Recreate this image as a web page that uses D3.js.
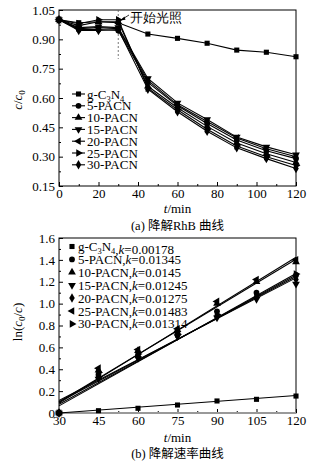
<!DOCTYPE html>
<html><head><meta charset="utf-8">
<script src="https://cdn.jsdelivr.net/npm/d3@7"></script>
<style>body{margin:0;background:#fff}svg{display:block}text{font-family:"Liberation Serif","Times New Roman",serif;fill:#000}</style>
</head><body>
<svg id="c" width="325" height="462"></svg>
<script>
// ---- Data: panel (a) degradation curves ----
const timesA = [0,10,20,30,45,60,75,90,105,120];
const seriesNamesA = ["g-C3N4","5-PACN","10-PACN","15-PACN","20-PACN","25-PACN","30-PACN"];
const gC3N4_A  = [1.0,0.985,0.99,0.985,0.927,0.905,0.88,0.845,0.834,0.811];
const p5_A     = [1.0,0.95,0.95,0.945,0.68,0.56,0.47,0.385,0.33,0.29];
const p10_A    = [1.0,0.97,0.99,0.99,0.66,0.55,0.455,0.37,0.315,0.27];
const p15_A    = [1.0,0.96,0.965,0.96,0.70,0.575,0.49,0.40,0.35,0.31];
const p20_A    = [1.0,0.955,0.96,0.955,0.69,0.565,0.48,0.395,0.34,0.30];
const p25_A    = [1.0,0.98,1.0,1.0,0.65,0.54,0.44,0.355,0.30,0.255];
const p30_A    = [1.0,0.945,0.945,0.95,0.645,0.53,0.43,0.345,0.29,0.24];
const yTicksA = [0.15,0.30,0.45,0.60,0.75,0.90,1.05];
const xTicksA = [0,20,40,60,80,100,120];

// ---- Data: panel (b) rate curves ----
const timesB = [30,45,60,75,90,105,120];
const seriesNamesB = ["g-C3N4","5-PACN","10-PACN","15-PACN","20-PACN","25-PACN","30-PACN"];
const kValues = ["0.00178","0.01345","0.0145","0.01245","0.01275","0.01483","0.01314"];
const gC3N4_B = [0,0.021,0.043,0.073,0.11,0.125,0.155];
const p5_B    = [0,0.35,0.53,0.73,0.93,1.10,1.26];
const p10_B   = [0,0.39,0.57,0.76,1.00,1.20,1.38];
const p15_B   = [0,0.31,0.50,0.70,0.87,1.04,1.18];
const p20_B   = [0,0.33,0.51,0.71,0.89,1.06,1.22];
const p25_B   = [0,0.41,0.58,0.77,1.02,1.22,1.40];
const p30_B   = [0,0.37,0.54,0.72,0.90,1.08,1.27];
const fitSlopes = [0.00178,0.01345,0.0145,0.01245,0.01275,0.01483,0.01314];
const fitAt30   = [0.0,0.065,0.10,0.115,0.10,0.09,0.08];
const yTicksB = [0,0.2,0.4,0.6,0.8,1.0,1.2,1.4,1.6];
const xTicksB = [30,45,60,75,90,105,120];

const svg = d3.select("#c");
const L = 59, R = 296;

const symA = [
  d3.symbol().type(d3.symbolSquare).size(26),
  d3.symbol().type(d3.symbolCircle).size(26),
  d3.symbol().type(d3.symbolTriangle).size(26),
  d3.symbol().type(d3.symbolTriangle).size(26),
  d3.symbol().type(d3.symbolTriangle).size(26),
  d3.symbol().type(d3.symbolTriangle).size(26),
  d3.symbol().type(d3.symbolDiamond).size(26)
];
const rotA = [0,0,0,180,-90,90,0];
const symB = [symA[0],symA[1],symA[2],symA[3],d3.symbol().type(d3.symbolDiamond).size(26),symA[4],symA[5]];
const rotB = [0,0,0,180,0,-90,90];

function frame(g, x, y, xt, yt, minorX, minorY, fmtY) {
  const [x0,x1] = x.range(), [y0,y1] = y.range();
  const ax = g.append("g").attr("transform",`translate(0,${y0})`)
    .call(d3.axisBottom(x).tickValues(xt).tickSize(-4).tickPadding(3).tickFormat(d3.format("d")));
  const axm = g.append("g").attr("transform",`translate(0,${y0})`)
    .call(d3.axisBottom(x).tickValues(minorX).tickSize(-2).tickFormat(""));
  const ay = g.append("g").attr("transform",`translate(${x0},0)`)
    .call(d3.axisLeft(y).tickValues(yt).tickSize(-4).tickPadding(4).tickFormat(fmtY));
  const aym = g.append("g").attr("transform",`translate(${x0},0)`)
    .call(d3.axisLeft(y).tickValues(minorY).tickSize(-2).tickFormat(""));
  [ax,axm,ay,aym].forEach(a=>{a.select(".domain").remove(); a.selectAll("line").attr("stroke","#000");});
  [ax,ay].forEach(a=>a.selectAll("text").attr("font-size",13).attr("font-family","Liberation Serif"));
  g.append("rect").attr("x",x0).attr("y",y1).attr("width",x1-x0).attr("height",y0-y1)
    .attr("fill","none").attr("stroke","#000").attr("stroke-width",1);
}

// ===== Panel (a) =====
const xA = d3.scaleLinear().domain([0,120]).range([L,R]);
const yA = d3.scaleLinear().domain([0.15,1.05]).range([186,10]);
const gA = svg.append("g");
frame(gA, xA, yA, xTicksA, yTicksA, d3.range(10,120,20), d3.range(0.225,1.05,0.15), d3.format(".2f"));

gA.append("line").attr("x1",xA(30)).attr("x2",xA(30)).attr("y1",yA(1.05)).attr("y2",yA(0.80))
  .attr("stroke","#555").attr("stroke-width",0.8).attr("stroke-dasharray","2,2");

const dataA = [gC3N4_A,p5_A,p10_A,p15_A,p20_A,p25_A,p30_A];
const lineA = d3.line().x((d,i)=>xA(timesA[i])).y(d=>yA(d));
dataA.forEach((s,k)=>{
  gA.append("path").datum(s).attr("d",lineA).attr("fill","none").attr("stroke","#000").attr("stroke-width",1.1);
  gA.selectAll(null).data(s).enter().append("path")
    .attr("d",symA[k]).attr("fill","#000")
    .attr("transform",(d,i)=>`translate(${xA(timesA[i])},${yA(d)}) rotate(${rotA[k]})`);
});

gA.append("text").attr("x",130).attr("y",22).attr("font-size",12.5)
  .attr("font-family","Noto Sans CJK SC").text("开始光照");
gA.append("line").attr("x1",129).attr("y1",15).attr("x2",121).attr("y2",20).attr("stroke","#000").attr("stroke-width",0.8);
gA.append("path").attr("d","M120,20.6 L124.5,16.5 L125.5,19.8 Z").attr("fill","#000");

function nameText(t, name, size) {
  if (name === "g-C3N4") {
    t.append("tspan").text("g-C");
    t.append("tspan").attr("font-size",size*0.65).attr("dy",3).text("3");
    t.append("tspan").attr("dy",-3).text("N");
    t.append("tspan").attr("font-size",size*0.65).attr("dy",3).text("4");
    t.append("tspan").attr("dy",-3).text("");
  } else t.append("tspan").text(name);
}
seriesNamesA.forEach((n,k)=>{
  const yy = 94 + k*11.8;
  gA.append("line").attr("x1",72).attr("x2",85).attr("y1",yy).attr("y2",yy).attr("stroke","#000").attr("stroke-width",1.1);
  gA.append("path").attr("d",symA[k]).attr("fill","#000").attr("transform",`translate(78.5,${yy}) rotate(${rotA[k]})`);
  const t = gA.append("text").attr("x",87).attr("y",yy+4.5).attr("font-size",13);
  nameText(t,n,13);
});

const yl = gA.append("text").attr("transform","translate(22,100) rotate(-90)").attr("text-anchor","middle").attr("font-size",13);
yl.append("tspan").attr("font-style","italic").text("c");
yl.append("tspan").text("/");
yl.append("tspan").attr("font-style","italic").text("c");
yl.append("tspan").attr("font-size",9).attr("dy",3).text("0");
const xl = gA.append("text").attr("x",177.5).attr("y",213).attr("text-anchor","middle").attr("font-size",13);
xl.append("tspan").attr("font-style","italic").text("t");
xl.append("tspan").text("/min");
const capA = gA.append("text").attr("x",177.5).attr("y",230).attr("text-anchor","middle").attr("font-size",12.5);
capA.append("tspan").text("(a) ");
capA.append("tspan").attr("font-family","Noto Sans CJK SC").text("降解");
capA.append("tspan").text("RhB ");
capA.append("tspan").attr("font-family","Noto Sans CJK SC").text("曲线");

// ===== Panel (b) =====
const xB = d3.scaleLinear().domain([30,120]).range([L,R]);
const yB = d3.scaleLinear().domain([0,1.6]).range([413,238]);
const gB = svg.append("g");
frame(gB, xB, yB, xTicksB, yTicksB, d3.range(37.5,120,15), d3.range(0.1,1.6,0.2), d=> d===0?"0":d3.format(".1f")(d));
gB.append("line").attr("x1",L).attr("x2",R).attr("y1",413).attr("y2",413).attr("stroke","#999").attr("stroke-width",2);

const dataB = [gC3N4_B,p5_B,p10_B,p15_B,p20_B,p25_B,p30_B];
dataB.forEach((s,k)=>{
  const b0 = fitAt30[k], sl = fitSlopes[k];
  gB.append("line").attr("x1",xB(30)).attr("y1",yB(b0)).attr("x2",xB(120)).attr("y2",yB(b0+sl*90))
    .attr("stroke","#000").attr("stroke-width",1.1);
});
dataB.forEach((s,k)=>{
  gB.selectAll(null).data(s).enter().append("path")
    .attr("d",symB[k]).attr("fill","#000")
    .attr("transform",(d,i)=>`translate(${xB(timesB[i])},${yB(d)}) rotate(${rotB[k]})`);
});

seriesNamesB.forEach((n,k)=>{
  const yy = 246.5 + k*12.9;
  gB.append("path").attr("d",symB[k]).attr("fill","#000").attr("transform",`translate(72,${yy}) rotate(${rotB[k]})`);
  const t = gB.append("text").attr("x",78).attr("y",yy+4.5).attr("font-size",13);
  nameText(t,n,13);
  t.append("tspan").text(",");
  t.append("tspan").attr("font-style","italic").text("k");
  t.append("tspan").text("="+kValues[k]);
});

const yl2 = gB.append("text").attr("transform","translate(22,322) rotate(-90)").attr("text-anchor","middle").attr("font-size",13);
yl2.append("tspan").text("ln(");
yl2.append("tspan").attr("font-style","italic").text("c");
yl2.append("tspan").attr("font-size",9).attr("dy",3).text("0");
yl2.append("tspan").attr("dy",-3).text("/");
yl2.append("tspan").attr("font-style","italic").text("c");
yl2.append("tspan").text(")");
const xl2 = gB.append("text").attr("x",177.5).attr("y",442).attr("text-anchor","middle").attr("font-size",13);
xl2.append("tspan").attr("font-style","italic").text("t");
xl2.append("tspan").text("/min");
const capB = gB.append("text").attr("x",177.5).attr("y",458).attr("text-anchor","middle").attr("font-size",12.5);
capB.append("tspan").text("(b) ");
capB.append("tspan").attr("font-family","Noto Sans CJK SC").text("降解速率曲线");
</script>
</body></html>
